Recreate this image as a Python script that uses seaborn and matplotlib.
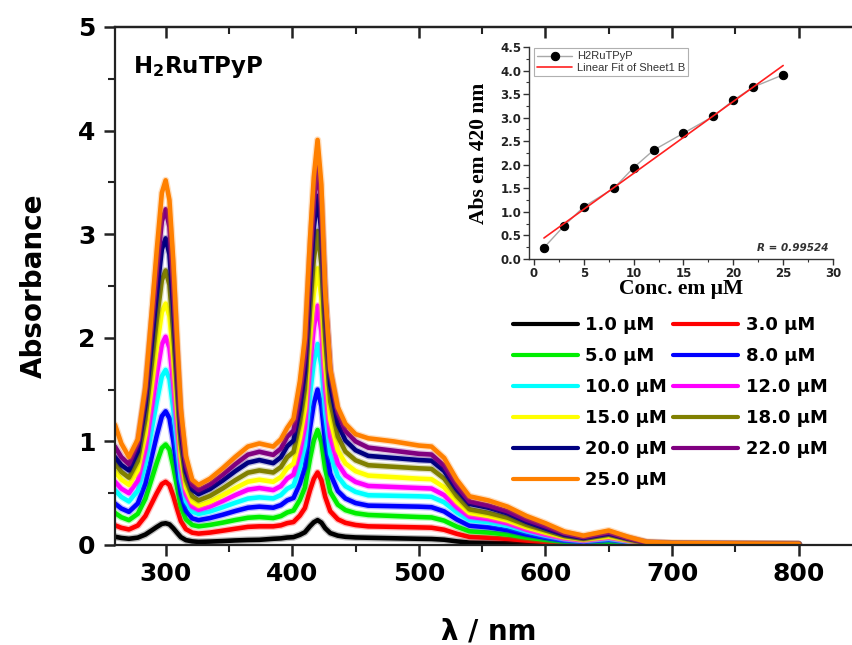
import numpy as np
import pandas as pd
import matplotlib
matplotlib.use("Agg")
import matplotlib.pyplot as plt
import matplotlib.patheffects as pe
from matplotlib.lines import Line2D
from matplotlib.ticker import MultipleLocator, FormatStrFormatter
import seaborn as sns

# ---------------- data ----------------
wavelength = [260, 265, 271, 278, 284, 289, 293, 297, 300, 303, 306, 309, 312, 316, 321, 326,
              335, 345, 355, 365, 374, 385, 391, 396, 401, 406, 410, 414, 417, 420, 423, 426,
              430, 436, 442, 450, 460, 480, 500, 510, 520, 530, 540, 555, 570, 585, 600, 615,
              630, 650, 665, 680, 700, 800]

abs_1_0 = [0.080, 0.068, 0.060, 0.071, 0.101, 0.141, 0.174, 0.204, 0.210, 0.199, 0.162, 0.118, 0.076, 0.047, 0.035, 0.030,
           0.033, 0.038, 0.044, 0.048, 0.050, 0.060, 0.064, 0.072, 0.076, 0.098, 0.123, 0.181, 0.219, 0.240, 0.216, 0.162,
           0.115, 0.090, 0.079, 0.073, 0.070, 0.065, 0.060, 0.058, 0.051, 0.035, 0.023, 0.020, 0.017, 0.013, 0.010, 0.008,
           0.006, 0.008, 0.005, 0.003, 0.002, 0.001]
abs_3_0 = [0.190, 0.166, 0.150, 0.188, 0.280, 0.402, 0.500, 0.588, 0.610, 0.579, 0.476, 0.350, 0.231, 0.153, 0.119, 0.110,
           0.120, 0.138, 0.157, 0.175, 0.180, 0.180, 0.190, 0.211, 0.222, 0.284, 0.357, 0.528, 0.638, 0.700, 0.627, 0.466,
           0.326, 0.248, 0.214, 0.193, 0.180, 0.175, 0.170, 0.167, 0.147, 0.108, 0.078, 0.070, 0.059, 0.043, 0.030, 0.019,
           0.013, 0.020, 0.011, 0.004, 0.003, 0.002]
abs_5_0 = [0.310, 0.268, 0.240, 0.301, 0.447, 0.639, 0.795, 0.936, 0.970, 0.921, 0.758, 0.561, 0.370, 0.248, 0.193, 0.180,
           0.194, 0.216, 0.241, 0.263, 0.270, 0.260, 0.279, 0.314, 0.333, 0.435, 0.554, 0.832, 1.009, 1.110, 0.994, 0.736,
           0.512, 0.389, 0.337, 0.307, 0.290, 0.280, 0.270, 0.266, 0.235, 0.177, 0.132, 0.120, 0.101, 0.072, 0.050, 0.031,
           0.022, 0.030, 0.017, 0.006, 0.004, 0.002]
abs_8_0 = [0.400, 0.352, 0.320, 0.401, 0.594, 0.851, 1.057, 1.243, 1.290, 1.224, 1.008, 0.746, 0.493, 0.331, 0.257, 0.240,
           0.260, 0.292, 0.328, 0.360, 0.370, 0.360, 0.385, 0.431, 0.454, 0.592, 0.752, 1.126, 1.363, 1.500, 1.343, 0.993,
           0.689, 0.521, 0.449, 0.405, 0.380, 0.375, 0.370, 0.365, 0.324, 0.246, 0.186, 0.170, 0.143, 0.102, 0.070, 0.043,
           0.030, 0.050, 0.029, 0.010, 0.006, 0.003]
abs_10_0 = [0.530, 0.464, 0.420, 0.525, 0.779, 1.114, 1.385, 1.629, 1.690, 1.603, 1.317, 0.970, 0.638, 0.422, 0.324, 0.300,
            0.324, 0.364, 0.408, 0.448, 0.460, 0.450, 0.482, 0.543, 0.574, 0.753, 0.962, 1.451, 1.762, 1.940, 1.734, 1.278,
            0.881, 0.662, 0.568, 0.513, 0.480, 0.475, 0.470, 0.465, 0.412, 0.315, 0.240, 0.220, 0.185, 0.132, 0.090, 0.056,
            0.039, 0.060, 0.034, 0.012, 0.008, 0.004]
abs_12_0 = [0.610, 0.544, 0.500, 0.623, 0.924, 1.325, 1.647, 1.938, 2.010, 1.905, 1.562, 1.146, 0.748, 0.489, 0.371, 0.340,
            0.372, 0.424, 0.482, 0.534, 0.550, 0.530, 0.568, 0.642, 0.680, 0.893, 1.142, 1.726, 2.097, 2.310, 2.065, 1.521,
            1.047, 0.786, 0.674, 0.609, 0.570, 0.560, 0.550, 0.545, 0.481, 0.364, 0.274, 0.250, 0.210, 0.148, 0.100, 0.062,
            0.043, 0.070, 0.040, 0.014, 0.009, 0.005]
abs_15_0 = [0.710, 0.632, 0.580, 0.722, 1.071, 1.535, 1.910, 2.247, 2.330, 2.208, 1.807, 1.323, 0.858, 0.555, 0.417, 0.380,
            0.418, 0.480, 0.549, 0.611, 0.630, 0.610, 0.656, 0.741, 0.786, 1.033, 1.321, 1.994, 2.424, 2.670, 2.388, 1.761,
            1.215, 0.914, 0.787, 0.713, 0.670, 0.655, 0.640, 0.635, 0.557, 0.417, 0.309, 0.280, 0.237, 0.171, 0.120, 0.074,
            0.052, 0.080, 0.046, 0.016, 0.010, 0.005]
abs_18_0 = [0.790, 0.706, 0.650, 0.812, 1.212, 1.742, 2.170, 2.556, 2.650, 2.511, 2.055, 1.503, 0.973, 0.629, 0.471, 0.430,
            0.474, 0.546, 0.626, 0.698, 0.720, 0.700, 0.752, 0.848, 0.899, 1.179, 1.504, 2.266, 2.751, 3.030, 2.711, 2.001,
            1.385, 1.047, 0.902, 0.818, 0.770, 0.755, 0.740, 0.735, 0.641, 0.473, 0.344, 0.310, 0.264, 0.194, 0.140, 0.087,
            0.060, 0.100, 0.057, 0.020, 0.012, 0.006]
abs_20_0 = [0.850, 0.772, 0.720, 0.903, 1.351, 1.944, 2.422, 2.854, 2.960, 2.805, 2.298, 1.682, 1.092, 0.709, 0.535, 0.490,
            0.540, 0.622, 0.713, 0.795, 0.820, 0.790, 0.847, 0.953, 1.009, 1.319, 1.679, 2.523, 3.061, 3.370, 3.016, 2.229,
            1.545, 1.169, 1.009, 0.915, 0.860, 0.840, 0.820, 0.814, 0.714, 0.535, 0.397, 0.360, 0.306, 0.224, 0.160, 0.099,
            0.069, 0.110, 0.063, 0.022, 0.013, 0.007]
abs_22_0 = [0.950, 0.848, 0.780, 0.981, 1.473, 2.124, 2.650, 3.124, 3.240, 3.071, 2.513, 1.838, 1.190, 0.769, 0.579, 0.530,
            0.586, 0.678, 0.780, 0.872, 0.900, 0.870, 0.931, 1.045, 1.105, 1.439, 1.827, 2.737, 3.317, 3.650, 3.268, 2.419,
            1.681, 1.275, 1.102, 1.000, 0.940, 0.910, 0.880, 0.873, 0.765, 0.570, 0.420, 0.380, 0.326, 0.244, 0.180, 0.112,
            0.077, 0.120, 0.068, 0.024, 0.014, 0.007]
abs_25_0 = [1.160, 0.980, 0.850, 1.020, 1.530, 2.250, 2.850, 3.400, 3.520, 3.330, 2.750, 2.010, 1.320, 0.860, 0.630, 0.580,
            0.640, 0.740, 0.850, 0.950, 0.980, 0.950, 1.020, 1.130, 1.220, 1.580, 2.000, 2.950, 3.550, 3.910, 3.480, 2.450,
            1.700, 1.330, 1.170, 1.070, 1.030, 1.000, 0.960, 0.950, 0.840, 0.630, 0.470, 0.430, 0.370, 0.280, 0.210, 0.130,
            0.090, 0.140, 0.080, 0.030, 0.020, 0.010]

conc_labels = ["1.0 \u00b5M", "3.0 \u00b5M", "5.0 \u00b5M", "8.0 \u00b5M", "10.0 \u00b5M", "12.0 \u00b5M",
               "15.0 \u00b5M", "18.0 \u00b5M", "20.0 \u00b5M", "22.0 \u00b5M", "25.0 \u00b5M"]
spectra = [abs_1_0, abs_3_0, abs_5_0, abs_8_0, abs_10_0, abs_12_0,
           abs_15_0, abs_18_0, abs_20_0, abs_22_0, abs_25_0]
colors = ["#000000", "#ff0000", "#00ee00", "#0000ff", "#00ffff", "#ff00ff",
          "#ffff00", "#808000", "#000080", "#800080", "#ff8000"]

x_ticks = [300, 400, 500, 600, 700, 800]
y_ticks = [0, 1, 2, 3, 4, 5]

inset_conc = [1, 3, 5, 8, 10, 12, 15, 18, 20, 22, 25]
inset_abs = [0.24, 0.70, 1.11, 1.50, 1.94, 2.31, 2.67, 3.03, 3.37, 3.65, 3.91]
inset_r = "R = 0.99524"

# ---------------- style ----------------
sns.set_theme(style="ticks")
plt.rcParams["font.family"] = ["DejaVu Sans"]
plt.rcParams["mathtext.fontset"] = "dejavusans"
for key in ["text.color", "axes.labelcolor", "xtick.color", "ytick.color", "axes.edgecolor"]:
    plt.rcParams[key] = "black"

W, H = 853, 645
fig = plt.figure(figsize=(W / 100, H / 100), dpi=100)
fig.patch.set_facecolor("white")

# main axes (right side extends past the figure edge, as in the cropped original)
ax = fig.add_axes([115 / W, 100 / H, 747 / W, 518 / H])
ax.set_facecolor("white")

df = pd.concat([pd.DataFrame({"wl": wavelength, "A": s, "conc": lab})
                for lab, s in zip(conc_labels, spectra)], ignore_index=True)
sns.lineplot(data=df, x="wl", y="A", hue="conc", hue_order=conc_labels,
             palette=colors, linewidth=3.3, estimator=None, sort=False,
             legend=False, ax=ax)
for ln, c in zip(ax.get_lines(), colors):
    ln.set_path_effects([pe.Stroke(linewidth=5.2, foreground=c, alpha=0.25), pe.Normal()])
    ln.set_solid_joinstyle("round")
    ln.set_solid_capstyle("round")

ax.set_xlim(260, 850)
ax.set_ylim(0, 5)
ax.set_xticks(x_ticks)
ax.xaxis.set_minor_locator(MultipleLocator(50))
ax.set_yticks(y_ticks)
ax.yaxis.set_minor_locator(MultipleLocator(0.5))

for side in ["left", "bottom", "top"]:
    ax.spines[side].set_visible(True)
    ax.spines[side].set_linewidth(1.6)
    ax.spines[side].set_color("#222222")
ax.spines["right"].set_visible(False)

ax.tick_params(axis="x", which="major", direction="out", length=8, width=1.8,
               labelsize=18, pad=4, colors="#222222", labelcolor="black", bottom=True, top=False)
ax.tick_params(axis="x", which="minor", direction="out", length=5, width=1.5,
               bottom=True, top=False, colors="#222222")
ax.tick_params(axis="y", which="major", direction="out", length=8, width=1.8,
               labelsize=18, pad=6, colors="#222222", labelcolor="black", left=True, right=False)
ax.tick_params(axis="y", which="minor", direction="out", length=5, width=1.5,
               left=True, right=False, colors="#222222")
for lab in ax.get_xticklabels() + ax.get_yticklabels():
    lab.set_fontweight("bold")

# top ticks pointing inward
sec = ax.secondary_xaxis("top")
sec.set_xticks(x_ticks)
sec.xaxis.set_minor_locator(MultipleLocator(50))
sec.tick_params(axis="x", which="major", direction="in", length=8, width=1.8,
                labeltop=False, colors="#222222")
sec.tick_params(axis="x", which="minor", direction="in", length=5, width=1.5, colors="#222222")
sec.spines["top"].set_linewidth(1.6)
sec.spines["top"].set_color("#222222")

ax.set_xlabel("\u03bb / nm", fontsize=20, fontweight="bold", color="black")
ax.xaxis.set_label_coords(0.5, -0.14)
ax.xaxis.label.set_va("top")
ax.set_ylabel("Absorbance", fontsize=20, fontweight="bold", color="black")
ax.yaxis.set_label_coords(-0.09, 0.5)

fig.text(133 / W, (H - 73) / H, r"$\mathbf{H_2RuTPyP}$", fontsize=16.5, va="baseline",
         ha="left", color="black")

# legend (two columns, row-wise order)
handles = [Line2D([0], [0], color=c, lw=3.0) for c in colors]
order = [0, 2, 4, 6, 8, 10, 1, 3, 5, 7, 9]
leg = ax.legend([handles[i] for i in order], [conc_labels[i] for i in order],
                loc="upper left", bbox_to_anchor=(513 / W, (H - 316) / H),
                bbox_transform=fig.transFigure, ncol=2, frameon=False,
                prop={"size": 13, "weight": "bold"}, handlelength=3.6,
                handletextpad=0.4, columnspacing=0.35, labelspacing=0.72,
                borderpad=0, borderaxespad=0)
for t in leg.get_texts():
    t.set_color("black")

# ---------------- inset ----------------
ax2 = fig.add_axes([529 / W, (H - 259) / H, 304 / W, 212 / H])
ax2.set_facecolor("none")
sns.lineplot(x=inset_conc, y=inset_abs, color="#a8a8a8", linewidth=1.0, marker="o",
             markersize=6.0, markerfacecolor="black", markeredgecolor="black",
             label="H2RuTPyP", ax=ax2)
fit = np.polyfit(inset_conc, inset_abs, 1)
fit_x = [min(inset_conc), max(inset_conc)]
sns.lineplot(x=fit_x, y=np.polyval(fit, fit_x), color="#ff2020", linewidth=1.2,
             label="Linear Fit of Sheet1 B", ax=ax2)

ax2.set_xlim(-0.5, 30)
ax2.set_ylim(0, 4.5)
ax2.xaxis.set_major_locator(MultipleLocator(5))
ax2.xaxis.set_minor_locator(MultipleLocator(2.5))
ax2.yaxis.set_major_locator(MultipleLocator(0.5))
ax2.yaxis.set_minor_locator(MultipleLocator(0.25))
ax2.yaxis.set_major_formatter(FormatStrFormatter("%.1f"))
for side in ["top", "right"]:
    ax2.spines[side].set_visible(False)
for side in ["left", "bottom"]:
    ax2.spines[side].set_linewidth(1.0)
    ax2.spines[side].set_color("#333333")
ax2.tick_params(axis="both", which="major", direction="out", length=4, width=1.0,
                labelsize=8.5, pad=1.5, colors="#333333", labelcolor="#222222")
ax2.tick_params(axis="both", which="minor", direction="out", length=2.5, width=0.8,
                colors="#333333")
for lab in ax2.get_xticklabels() + ax2.get_yticklabels():
    lab.set_fontweight("bold")

ax2.set_xlabel("Conc. em \u00b5M", fontsize=15.5, fontweight="bold", family="Liberation Serif",
               color="black")
ax2.xaxis.set_label_coords(0.5, -0.095)
ax2.xaxis.label.set_va("top")
ax2.set_ylabel("Abs em 420 nm", fontsize=15.5, fontweight="bold", family="Liberation Serif",
               color="black")
ax2.yaxis.set_label_coords(-0.13, 0.5)

lg2 = ax2.legend(loc="upper left", bbox_to_anchor=(0.015, 0.995), frameon=True,
                 fancybox=False, edgecolor="#b0b0b0", framealpha=1,
                 prop={"family": "Liberation Sans", "size": 8},
                 handlelength=3.2, handletextpad=0.4, borderpad=0.3,
                 labelspacing=0.15, borderaxespad=0)
lg2.get_frame().set_linewidth(0.8)
for t in lg2.get_texts():
    t.set_color("#333333")

ax2.text(0.985, 0.052, inset_r, transform=ax2.transAxes, ha="right", va="center",
         fontsize=7.5, fontweight="bold", fontstyle="italic", color="#333333")

fig.savefig("out.png", dpi=100, facecolor="white")
